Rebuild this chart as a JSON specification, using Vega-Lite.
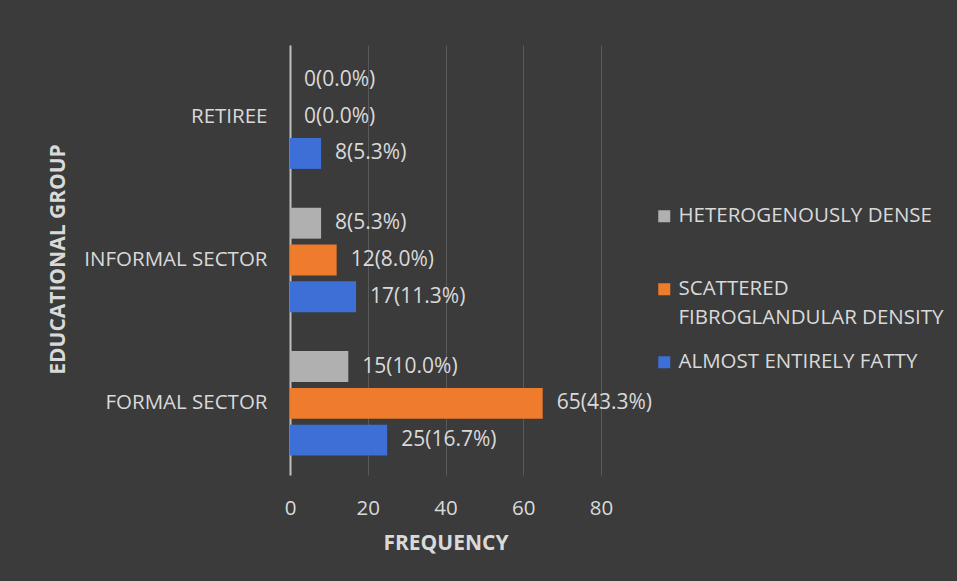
{
  "$schema": "https://vega.github.io/schema/vega-lite/v6.json",
  "width": 311,
  "height": 430,
  "autosize": {"type": "none"},
  "padding": {"left": 290, "top": 45, "right": 356, "bottom": 106},
  "background": "#3b3b3b",
  "config": {"view": {"stroke": null}, "font": "Open Sans", "style": {"guide-label": {"lineHeight": 29}}},
  "data": {
    "values": [
      {"group": "RETIREE", "series": "HETEROGENOUSLY DENSE", "value": 0, "label": "0(0.0%)"},
      {"group": "RETIREE", "series": "SCATTERED FIBROGLANDULAR DENSITY", "value": 0, "label": "0(0.0%)"},
      {"group": "RETIREE", "series": "ALMOST ENTIRELY FATTY", "value": 8, "label": "8(5.3%)"},
      {"group": "INFORMAL SECTOR", "series": "HETEROGENOUSLY DENSE", "value": 8, "label": "8(5.3%)"},
      {"group": "INFORMAL SECTOR", "series": "SCATTERED FIBROGLANDULAR DENSITY", "value": 12, "label": "12(8.0%)"},
      {"group": "INFORMAL SECTOR", "series": "ALMOST ENTIRELY FATTY", "value": 17, "label": "17(11.3%)"},
      {"group": "FORMAL SECTOR", "series": "HETEROGENOUSLY DENSE", "value": 15, "label": "15(10.0%)"},
      {"group": "FORMAL SECTOR", "series": "SCATTERED FIBROGLANDULAR DENSITY", "value": 65, "label": "65(43.3%)"},
      {"group": "FORMAL SECTOR", "series": "ALMOST ENTIRELY FATTY", "value": 25, "label": "25(16.7%)"}
    ]
  },
  "encoding": {
    "y": {
      "field": "group",
      "type": "nominal",
      "sort": ["RETIREE", "INFORMAL SECTOR", "FORMAL SECTOR"],
      "scale": {"paddingInner": 0.23, "paddingOuter": 0.115},
      "axis": {
        "title": "EDUCATIONAL GROUP",
        "ticks": false,
        "domain": true,
        "domainColor": "#bfbfbf",
        "domainWidth": 2,
        "grid": false,
        "labelPadding": 23,
        "labelLimit": 300,
        "labelColor": "#d9d9d9",
        "labelFontSize": 20.5,
        "labelFont": "Open Sans",
        "titleColor": "#d9d9d9",
        "titleFontSize": 21,
        "titleFont": "Open Sans",
        "titleFontWeight": "bold",
        "titleX": -232,
        "titleY": 214,
        "titleAngle": -90,
        "titleBaseline": "middle",
        "titleAlign": "center"
      }
    },
    "yOffset": {
      "field": "series",
      "type": "nominal",
      "sort": ["HETEROGENOUSLY DENSE", "SCATTERED FIBROGLANDULAR DENSITY", "ALMOST ENTIRELY FATTY"],
      "scale": {"paddingInner": 0.16, "paddingOuter": 0.08}
    },
    "x": {
      "field": "value",
      "type": "quantitative",
      "scale": {"domain": [0, 80], "nice": false},
      "axis": {
        "title": "FREQUENCY",
        "values": [0, 20, 40, 60, 80],
        "grid": true,
        "gridColor": "#595959",
        "gridWidth": 1,
        "domain": false,
        "ticks": false,
        "labelFlush": false,
        "labelPadding": 23,
        "labelColor": "#d9d9d9",
        "labelFontSize": 20.5,
        "labelFont": "Open Sans",
        "titleColor": "#d9d9d9",
        "titleFontSize": 21,
        "titleFont": "Open Sans",
        "titleFontWeight": "bold",
        "titleY": 68,
        "titleBaseline": "middle"
      }
    }
  },
  "layer": [
    {
      "mark": {"type": "bar"},
      "encoding": {
        "color": {
          "field": "series",
          "type": "nominal",
          "scale": {
            "domain": ["HETEROGENOUSLY DENSE", "SCATTERED FIBROGLANDULAR DENSITY", "ALMOST ENTIRELY FATTY"],
            "range": ["#b0b0b0", "#ef7b2d", "#3d6fd6"]
          },
          "legend": {
            "title": null,
            "orient": "none",
            "legendX": 364,
            "legendY": 161,
            "symbolType": "square",
            "symbolSize": 144,
            "symbolStrokeWidth": 0,
            "labelColor": "#d9d9d9",
            "labelFontSize": 20.5,
            "labelFont": "Open Sans",
            "labelLimit": 400,
            "labelOffset": 4,
            "rowPadding": 23,
            "labelExpr": "datum.label == 'SCATTERED FIBROGLANDULAR DENSITY' ? ['SCATTERED', 'FIBROGLANDULAR DENSITY'] : [datum.label, ' ']"
          }
        }
      }
    },
    {
      "mark": {"type": "text", "align": "left", "baseline": "middle", "dx": 14, "fontSize": 21, "font": "Open Sans", "color": "#d9d9d9"},
      "encoding": {"text": {"field": "label"}}
    }
  ]
}
